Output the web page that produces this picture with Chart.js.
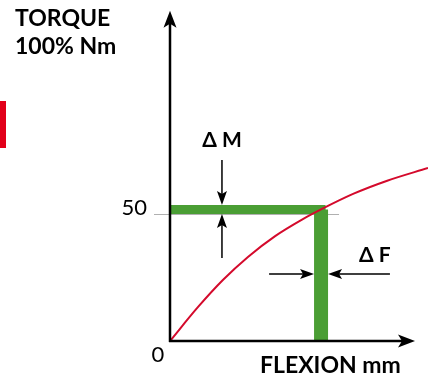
<!DOCTYPE html>
<html>
<head>
<meta charset="utf-8">
<script src="https://cdn.jsdelivr.net/npm/chart.js@4"></script>
<style>
  body { margin: 0; background: #fff; }
  #wrap { position: relative; width: 428px; height: 380px; }
  #redMark { position: absolute; left: 0; top: 101px; width: 6px; height: 47px; background: #e2001a; }
</style>
</head>
<body>
<div id="wrap">
  <canvas id="chart" width="428" height="380"></canvas>
  <div id="redMark"></div>
</div>
<script>
// curve (flexion, torque %)
const flexion = [0, 9.3, 17.5, 25.8, 34.8, 43.7, 50, 60.6, 71.9, 85.4];
const torque = [0, 13.4, 24.0, 33.1, 41.3, 47.8, 51.8, 57.9, 63.1, 68.1];

// working point marked in green
const markFlexion = 50;
const markTorque = 51.8;

const tickValues = [0, 50];
const tickLabels = ['0', '50'];

const yTitle = ['TORQUE', '100% Nm'];
const xTitle = 'FLEXION mm';
const deltaLabels = ['Δ M', 'Δ F'];

// where the small delta arrows sit
const deltaMFlexion = 17.2;
const deltaMFrom = [71.3, 32.7];
const deltaFTorque = 26.4;
const deltaFFrom = [32.8, 72.8];

const xAxisEnd = 81.1;
const yAxisEnd = 130;

const green = '#4a9e34';
const red = '#d40a2c';
const hBarWidth = 9;
const vBarWidth = 14;

function arrowHead(ctx, tx, ty, dx, dy, len, half, notch) {
    // dx,dy = unit direction of the arrow
    const bx = tx - dx * len, by = ty - dy * len;
    const nx = tx - dx * (len - notch), ny = ty - dy * (len - notch);
    ctx.beginPath();
    ctx.moveTo(tx, ty);
    ctx.lineTo(bx - dy * half, by + dx * half);
    ctx.lineTo(nx, ny);
    ctx.lineTo(bx + dy * half, by - dx * half);
    ctx.closePath();
    ctx.fill();
}

const decor = {
    id: 'decor',
    beforeDatasetsDraw(chart) {
        const ctx = chart.ctx;
        const x = chart.scales.x, y = chart.scales.y;
        // grey tick line at 50
        ctx.save();
        ctx.strokeStyle = '#b0b0b0';
        ctx.lineWidth = 1;
        const py = Math.round(y.getPixelForValue(tickValues[1])) + 0.5;
        ctx.beginPath();
        ctx.moveTo(x.getPixelForValue(0) - 16, py);
        ctx.lineTo(x.getPixelForValue(markFlexion) + 18, py);
        ctx.stroke();
        ctx.restore();
    },
    afterDatasetsDraw(chart) {
        const ctx = chart.ctx;
        const x = chart.scales.x, y = chart.scales.y;
        const ox = x.getPixelForValue(0), oy = y.getPixelForValue(0);
        ctx.save();
        ctx.strokeStyle = '#000';
        ctx.fillStyle = '#000';

        // axes with arrows
        const yTip = y.getPixelForValue(yAxisEnd);
        const xTip = x.getPixelForValue(xAxisEnd);
        ctx.lineWidth = 2.5;
        ctx.beginPath();
        ctx.moveTo(ox, oy + 1);
        ctx.lineTo(ox, yTip + 10);
        ctx.moveTo(ox - 1, oy);
        ctx.lineTo(xTip - 10, oy);
        ctx.stroke();
        arrowHead(ctx, ox, yTip, 0, -1, 17, 6.5, 4);
        arrowHead(ctx, xTip, oy, 1, 0, 17, 6.5, 4);

        // delta M arrows
        const mx = x.getPixelForValue(deltaMFlexion);
        const my = y.getPixelForValue(markTorque);
        ctx.lineWidth = 1.5;
        const topTip = my - hBarWidth / 2;
        const botTip = my + hBarWidth / 2;
        ctx.beginPath();
        ctx.moveTo(mx, y.getPixelForValue(deltaMFrom[0]));
        ctx.lineTo(mx, topTip - 6);
        ctx.moveTo(mx, y.getPixelForValue(deltaMFrom[1]));
        ctx.lineTo(mx, botTip + 6);
        ctx.stroke();
        arrowHead(ctx, mx, topTip, 0, 1, 14, 5, 3);
        arrowHead(ctx, mx, botTip, 0, -1, 14, 5, 3);

        // delta F arrows
        const fy = y.getPixelForValue(deltaFTorque);
        const fx = x.getPixelForValue(markFlexion);
        const leftTip = fx - vBarWidth / 2;
        const rightTip = fx + vBarWidth / 2;
        ctx.beginPath();
        ctx.moveTo(x.getPixelForValue(deltaFFrom[0]), fy);
        ctx.lineTo(leftTip - 6, fy);
        ctx.moveTo(x.getPixelForValue(deltaFFrom[1]), fy);
        ctx.lineTo(rightTip + 6, fy);
        ctx.stroke();
        arrowHead(ctx, leftTip, fy, 1, 0, 14, 5, 3);
        arrowHead(ctx, rightTip, fy, -1, 0, 14, 5, 3);

        // tick labels
        ctx.font = '22px Lato, "Noto Sans", sans-serif';
        ctx.textBaseline = 'alphabetic';
        ctx.textAlign = 'center';
        ctx.fillText(tickLabels[0], ox - 12, oy + 21);
        ctx.textAlign = 'right';
        ctx.fillText(tickLabels[1], ox - 23, y.getPixelForValue(tickValues[1]) + 1);

        // titles
        ctx.font = 'bold 23px Lato, "Noto Sans", sans-serif';
        ctx.textAlign = 'left';
        ctx.fillText(yTitle[0], 15, 26);
        ctx.fillText(yTitle[1], 15, 54);
        ctx.fillText(xTitle, 260, 373);

        ctx.font = 'bold 21px Lato, "DejaVu Sans", sans-serif';
        ctx.textAlign = 'center';
        ctx.fillText(deltaLabels[0], mx, y.getPixelForValue(deltaMFrom[0]) - 13);
        ctx.fillText(deltaLabels[1], x.getPixelForValue(deltaFFrom[1]) - 15, fy - 12);
        ctx.restore();
    }
};

const ctx = document.getElementById('chart').getContext('2d');

new Chart(ctx, {
    type: 'scatter',
    data: {
        datasets: [
            {
                label: 'ΔF bar',
                data: [{ x: markFlexion, y: markTorque }, { x: markFlexion, y: 0 }],
                showLine: true,
                borderColor: green,
                borderWidth: vBarWidth,
                borderCapStyle: 'butt',
                pointRadius: 0,
                order: 3
            },
            {
                label: 'ΔM bar',
                data: [{ x: 0, y: markTorque }, { x: markFlexion, y: markTorque }, { x: markFlexion, y: markTorque - 2 }],
                showLine: true,
                borderColor: green,
                borderWidth: hBarWidth,
                borderCapStyle: 'butt',
                borderJoinStyle: 'miter',
                pointRadius: 0,
                order: 2
            },
            {
                label: 'curve',
                data: flexion.map((v, i) => ({ x: v, y: torque[i] })),
                showLine: true,
                borderColor: red,
                borderWidth: 2,
                cubicInterpolationMode: 'monotone',
                pointRadius: 0,
                order: 1
            }
        ]
    },
    options: {
        responsive: false,
        animation: false,
        devicePixelRatio: 1,
        layout: { padding: { left: 170, right: 0, top: 10.8, bottom: 39 } },
        plugins: { legend: { display: false }, tooltip: { enabled: false } },
        scales: {
            x: { type: 'linear', min: 0, max: 85.4, display: false },
            y: { type: 'linear', min: 0, max: 130, display: false }
        }
    },
    plugins: [decor]
});
</script>
</body>
</html>
